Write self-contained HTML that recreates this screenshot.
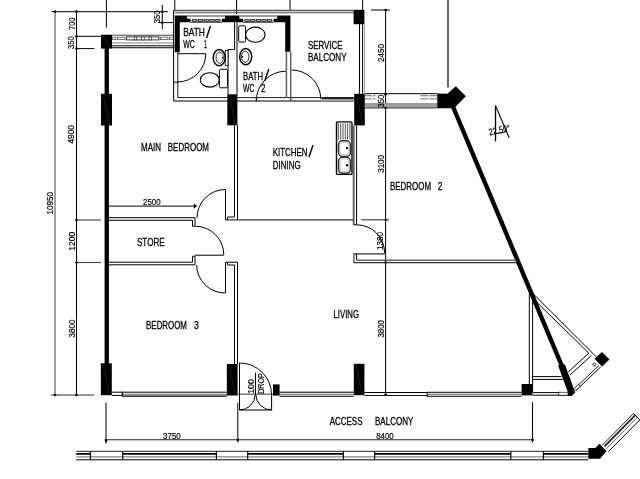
<!DOCTYPE html>
<html><head><meta charset="utf-8"><title>Floor plan</title>
<style>
html,body{margin:0;padding:0;background:#fff;}
svg{display:block;will-change:transform;transform:translateZ(0);}
text{font-family:"Liberation Sans",sans-serif;fill:#000;stroke:#000;stroke-width:0.3px;}
text.n{stroke-width:0.18px;}
tspan.s{stroke-width:0;}
</style></head>
<body>
<svg width="640" height="479" viewBox="0 0 640 479" shape-rendering="geometricPrecision">
<rect x="0" y="0" width="640" height="479" fill="#fff"/>
<line x1="51.5" y1="11.6" x2="168" y2="11.6" stroke="#333" stroke-width="1.2" />
<line x1="55" y1="11.6" x2="55" y2="395" stroke="#6a6a6a" stroke-width="1.3" />
<line x1="76.5" y1="11.6" x2="76.5" y2="395" stroke="#000" stroke-width="1.0" />
<line x1="76.5" y1="36.3" x2="101" y2="36.3" stroke="#000" stroke-width="1.0" />
<line x1="76.5" y1="48.6" x2="94.5" y2="48.6" stroke="#000" stroke-width="1.0" />
<line x1="76.5" y1="220" x2="101" y2="220" stroke="#444" stroke-width="1.1" />
<line x1="76.5" y1="262.5" x2="101" y2="262.5" stroke="#444" stroke-width="1.1" />
<line x1="51" y1="395" x2="94" y2="395" stroke="#333" stroke-width="1.1" />
<circle cx="55" cy="11.6" r="1.3" fill="#000"/>
<circle cx="76.5" cy="11.6" r="1.3" fill="#000"/>
<circle cx="76.5" cy="36.3" r="1.3" fill="#000"/>
<circle cx="76.5" cy="48.6" r="1.3" fill="#000"/>
<circle cx="76.5" cy="220" r="1.3" fill="#000"/>
<circle cx="76.5" cy="262.5" r="1.3" fill="#000"/>
<circle cx="55" cy="395" r="1.3" fill="#000"/>
<circle cx="76.5" cy="395" r="1.3" fill="#000"/>
<line x1="106.4" y1="0" x2="106.4" y2="27.5" stroke="#000" stroke-width="1.0" />
<line x1="174.8" y1="0" x2="174.8" y2="10.3" stroke="#000" stroke-width="1.0" />
<line x1="236.6" y1="0" x2="236.6" y2="14" stroke="#000" stroke-width="1.0" />
<line x1="290" y1="0" x2="290" y2="10.3" stroke="#000" stroke-width="1.0" />
<line x1="362.6" y1="0" x2="362.6" y2="10" stroke="#000" stroke-width="1.0" />
<line x1="448" y1="0" x2="448" y2="87.5" stroke="#000" stroke-width="1.2" />
<line x1="162.3" y1="5" x2="162.3" y2="29.3" stroke="#000" stroke-width="1.0" />
<line x1="158.8" y1="22.6" x2="173.6" y2="22.6" stroke="#000" stroke-width="1.0" />
<circle cx="162.3" cy="11.8" r="1.2" fill="#000"/>
<circle cx="162.3" cy="22.6" r="1.2" fill="#000"/>
<line x1="385.6" y1="10" x2="385.6" y2="395" stroke="#000" stroke-width="1.0" />
<line x1="371" y1="10" x2="390" y2="10" stroke="#000" stroke-width="1.0" />
<circle cx="385.6" cy="10" r="1.3" fill="#000"/>
<circle cx="385.6" cy="94.2" r="1.3" fill="#000"/>
<circle cx="385.6" cy="107.6" r="1.3" fill="#000"/>
<circle cx="385.6" cy="219.8" r="1.3" fill="#000"/>
<circle cx="385.6" cy="262.4" r="1.3" fill="#000"/>
<circle cx="385.6" cy="394.8" r="1.3" fill="#000"/>
<line x1="361.3" y1="219.8" x2="389" y2="219.8" stroke="#333" stroke-width="1.1" />
<line x1="106" y1="402.5" x2="106" y2="442.5" stroke="#000" stroke-width="1.0" />
<line x1="237.8" y1="402.6" x2="237.8" y2="442.5" stroke="#000" stroke-width="1.0" />
<line x1="532.5" y1="402" x2="532.5" y2="442.5" stroke="#000" stroke-width="1.0" />
<line x1="106" y1="439.8" x2="532.5" y2="439.8" stroke="#222" stroke-width="1.1" />
<circle cx="237.8" cy="439.8" r="1.4" fill="#000"/>
<circle cx="532.5" cy="439.8" r="1.4" fill="#000"/>
<polygon points="104.5,439.6 107.5,439.6 106,444.2" fill="#000" stroke="none" stroke-width="1.0"/>
<line x1="108.5" y1="206.1" x2="196" y2="206.1" stroke="#000" stroke-width="1.0" />
<polygon points="193.8,203.5 197.1,206.1 193.8,208.7" fill="#000" stroke="none" stroke-width="1.0"/>
<line x1="106.75" y1="48" x2="106.75" y2="364" stroke="#000" stroke-width="4.3" />
<rect x="101" y="34.7" width="11" height="13.9" fill="#000" stroke="none" stroke-width="1.0" rx="0"/>
<line x1="103.2" y1="35.7" x2="109.8" y2="47.6" stroke="#3c3c3c" stroke-width="0.5" />
<rect x="101" y="93.8" width="11" height="31.7" fill="#000" stroke="none" stroke-width="1.0" rx="0"/>
<line x1="103.2" y1="94.8" x2="109.8" y2="124.5" stroke="#3c3c3c" stroke-width="0.5" />
<rect x="100.8" y="363.3" width="11.0" height="31.9" fill="#000" stroke="none" stroke-width="1.0" rx="0"/>
<line x1="103.0" y1="364.3" x2="109.6" y2="394.2" stroke="#3c3c3c" stroke-width="0.5" />
<line x1="112" y1="35.2" x2="173.6" y2="35.2" stroke="#444" stroke-width="1.1" />
<line x1="112" y1="43" x2="174.5" y2="43" stroke="#666" stroke-width="0.8" />
<line x1="112" y1="45.8" x2="174.5" y2="45.8" stroke="#000" stroke-width="1.0" />
<line x1="112" y1="47.8" x2="174.5" y2="47.8" stroke="#000" stroke-width="1.1" />
<rect x="112.6" y="37.2" width="3.4" height="2.4" fill="#fff" stroke="#555" stroke-width="0.8" rx="0"/>
<rect x="117.6" y="37.2" width="7.4" height="2.4" fill="#fff" stroke="#555" stroke-width="0.8" rx="0"/>
<rect x="160.4" y="37.2" width="7.6" height="2.4" fill="#fff" stroke="#555" stroke-width="0.8" rx="0"/>
<rect x="169.6" y="37.2" width="4.2" height="2.4" fill="#fff" stroke="#555" stroke-width="0.8" rx="0"/>
<rect x="126.6" y="36.9" width="32.4" height="3.0" fill="#fff" stroke="#222" stroke-width="0.9" rx="0"/>
<rect x="134.2" y="36.9" width="2.6" height="3.0" fill="#fff" stroke="#222" stroke-width="0.7" rx="0"/>
<rect x="141.6" y="36.9" width="2.6" height="3.0" fill="#fff" stroke="#222" stroke-width="0.7" rx="0"/>
<rect x="149" y="36.9" width="2.6" height="3.0" fill="#fff" stroke="#222" stroke-width="0.7" rx="0"/>
<line x1="173.6" y1="10.5" x2="353.8" y2="10.5" stroke="#555" stroke-width="1.5" />
<line x1="174.8" y1="12.75" x2="353.8" y2="12.75" stroke="#222" stroke-width="0.8" />
<polygon points="174.8,15.6 186.9,15.6 186.9,18.75 190.6,18.75 190.6,22.2 179.8,22.2 179.8,52.2 174.8,52.2" fill="#000" stroke="none" stroke-width="1.0"/>
<polygon points="225,15.6 239.4,15.6 239.4,18.75 243.1,18.75 243.1,22.2 221.9,22.2 221.9,18.75 225,18.75" fill="#000" stroke="none" stroke-width="1.0"/>
<polygon points="277.3,15.6 290.4,15.6 290.4,51.8 285.2,51.8 285.2,22.2 273.6,22.2 273.6,18.75 277.3,18.75" fill="#000" stroke="none" stroke-width="1.0"/>
<line x1="186.9" y1="16.0" x2="225" y2="16.0" stroke="#222" stroke-width="0.9" />
<line x1="190.6" y1="22.3" x2="221.9" y2="22.3" stroke="#222" stroke-width="0.9" />
<rect x="192.5" y="19.5" width="4.38" height="2.0" fill="#fff" stroke="#222" stroke-width="0.8" rx="0"/>
<rect x="198.28" y="19.5" width="4.38" height="2.0" fill="#fff" stroke="#222" stroke-width="0.8" rx="0"/>
<rect x="204.06" y="19.5" width="4.38" height="2.0" fill="#fff" stroke="#222" stroke-width="0.8" rx="0"/>
<rect x="209.84" y="19.5" width="4.38" height="2.0" fill="#fff" stroke="#222" stroke-width="0.8" rx="0"/>
<rect x="215.62" y="19.5" width="4.38" height="2.0" fill="#fff" stroke="#222" stroke-width="0.8" rx="0"/>
<line x1="190.6" y1="20.5" x2="221.9" y2="20.5" stroke="#444" stroke-width="0.5" />
<line x1="239.4" y1="16.0" x2="277.3" y2="16.0" stroke="#222" stroke-width="0.9" />
<line x1="243.1" y1="22.3" x2="273.6" y2="22.3" stroke="#222" stroke-width="0.9" />
<rect x="245.0" y="19.5" width="4.22" height="2.0" fill="#fff" stroke="#222" stroke-width="0.8" rx="0"/>
<rect x="250.62" y="19.5" width="4.22" height="2.0" fill="#fff" stroke="#222" stroke-width="0.8" rx="0"/>
<rect x="256.24" y="19.5" width="4.22" height="2.0" fill="#fff" stroke="#222" stroke-width="0.8" rx="0"/>
<rect x="261.86" y="19.5" width="4.22" height="2.0" fill="#fff" stroke="#222" stroke-width="0.8" rx="0"/>
<rect x="267.48" y="19.5" width="4.22" height="2.0" fill="#fff" stroke="#222" stroke-width="0.8" rx="0"/>
<line x1="243.1" y1="20.5" x2="273.6" y2="20.5" stroke="#444" stroke-width="0.5" />
<line x1="173.6" y1="10.3" x2="173.6" y2="101" stroke="#000" stroke-width="1.0" />
<line x1="177.8" y1="52.2" x2="177.8" y2="97.6" stroke="#000" stroke-width="0.9" />
<line x1="177.8" y1="97.6" x2="227.5" y2="97.6" stroke="#000" stroke-width="0.9" />
<line x1="173.6" y1="101" x2="227.5" y2="101" stroke="#000" stroke-width="1.0" />
<line x1="237" y1="97.6" x2="353.8" y2="97.6" stroke="#000" stroke-width="0.9" />
<line x1="237" y1="101" x2="353.8" y2="101" stroke="#000" stroke-width="1.0" />
<line x1="286.4" y1="51.8" x2="286.4" y2="97.6" stroke="#666" stroke-width="1.6" />
<line x1="290.8" y1="51.8" x2="290.8" y2="101" stroke="#000" stroke-width="0.9" />
<line x1="234.6" y1="22.4" x2="234.6" y2="49.6" stroke="#000" stroke-width="1.0" />
<line x1="237" y1="22.4" x2="237" y2="94.3" stroke="#000" stroke-width="1.0" />
<line x1="228" y1="49.6" x2="228" y2="94.3" stroke="#000" stroke-width="1.0" />
<line x1="228" y1="49.6" x2="234.6" y2="49.6" stroke="#000" stroke-width="1.0" />
<rect x="227.3" y="94.3" width="10.1" height="31.0" fill="#000" stroke="none" stroke-width="1.0" rx="0"/>
<line x1="229.5" y1="95.3" x2="235.2" y2="124.3" stroke="#3c3c3c" stroke-width="0.5" />
<rect x="238.7" y="25.8" width="6.9" height="16.2" fill="#fff" stroke="#000" stroke-width="1.0" rx="1.4"/>
<ellipse cx="255.3" cy="34.7" rx="9.7" ry="7.6" fill="none" stroke="#000" stroke-width="1.1"/>
<rect x="219.4" y="69.3" width="8.1" height="18.5" fill="#fff" stroke="#000" stroke-width="1.0" rx="1.4"/>
<ellipse cx="209.8" cy="79.9" rx="9.5" ry="7.2" fill="none" stroke="#000" stroke-width="1.1"/>
<rect x="225.2" y="50.5" width="2.8" height="15.0" fill="#fff" stroke="#000" stroke-width="0.8" rx="0"/>
<ellipse cx="219.2" cy="57.7" rx="6" ry="8.1" fill="none" stroke="#000" stroke-width="1.5"/>
<ellipse cx="219.7" cy="57.7" rx="3.7" ry="5.6" fill="none" stroke="#000" stroke-width="0.8"/>
<ellipse cx="245.7" cy="56.7" rx="6" ry="8.1" fill="none" stroke="#000" stroke-width="1.5"/>
<ellipse cx="245.2" cy="56.7" rx="3.7" ry="5.6" fill="none" stroke="#000" stroke-width="0.8"/>
<circle cx="222.3" cy="57.7" r="0.8" fill="#000"/>
<circle cx="242.6" cy="56.7" r="0.8" fill="#000"/>
<line x1="177.8" y1="53.7" x2="205.8" y2="53.7" stroke="#000" stroke-width="1.0" />
<path d="M205.8,53.7 A28.1,28.1 0 0 1 177.8,81.9" fill="none" stroke="#000" stroke-width="1.0"/>
<line x1="173.6" y1="82.2" x2="178.6" y2="82.2" stroke="#000" stroke-width="1.0" />
<path d="M285.8,71.2 A29.6,29.6 0 0 0 256.3,101" fill="none" stroke="#000" stroke-width="1.0"/>
<line x1="256.3" y1="97.6" x2="256.3" y2="101.4" stroke="#000" stroke-width="1.0" />
<path d="M291.6,70 A29.2,29.2 0 0 1 320.8,99.2" fill="none" stroke="#000" stroke-width="1.0"/>
<line x1="359.5" y1="24.2" x2="359.5" y2="93.8" stroke="#000" stroke-width="1.1" />
<line x1="362.6" y1="24.2" x2="362.6" y2="93.8" stroke="#000" stroke-width="1.0" />
<line x1="364.5" y1="24.2" x2="364.5" y2="93.8" stroke="#777" stroke-width="0.7" />
<rect x="353.6" y="9.8" width="10.8" height="14.4" fill="#000" stroke="none" stroke-width="1.0" rx="0"/>
<line x1="355.8" y1="10.8" x2="362.2" y2="23.2" stroke="#3c3c3c" stroke-width="0.5" />
<rect x="321.6" y="97.1" width="32.2" height="2.1" fill="#222" stroke="none" stroke-width="1.0" rx="0"/>
<rect x="321.6" y="99.2" width="32.2" height="1.8" fill="#999" stroke="none" stroke-width="1.0" rx="0"/>
<rect x="354.2" y="93.8" width="10.6" height="31.6" fill="#000" stroke="none" stroke-width="1.0" rx="0"/>
<line x1="356.4" y1="94.8" x2="362.6" y2="124.4" stroke="#3c3c3c" stroke-width="0.5" />
<line x1="364.8" y1="93.7" x2="437.5" y2="93.7" stroke="#000" stroke-width="1.0" />
<rect x="364.8" y="103" width="72.7" height="3.9" fill="#9c9c9c" stroke="none" stroke-width="1.0" rx="0"/>
<line x1="364.8" y1="107.9" x2="437.5" y2="107.9" stroke="#111" stroke-width="1.0" />
<line x1="365" y1="95.7" x2="375.4" y2="95.7" stroke="#8a8a8a" stroke-width="1.3" />
<line x1="365" y1="98.9" x2="375.4" y2="98.9" stroke="#8a8a8a" stroke-width="1.3" />
<line x1="372.4" y1="94.6" x2="372.4" y2="100.2" stroke="#fff" stroke-width="1.2" />
<line x1="420.3" y1="95.7" x2="437.3" y2="95.7" stroke="#8a8a8a" stroke-width="1.3" />
<line x1="420.3" y1="98.9" x2="437.3" y2="98.9" stroke="#8a8a8a" stroke-width="1.3" />
<line x1="428.8" y1="94.6" x2="428.8" y2="100.2" stroke="#fff" stroke-width="1.2" />
<polygon points="437.3,93.5 447.5,93.8 455.8,86.3 465.9,96.2 454,108.2 437.3,108.3" fill="#000" stroke="none" stroke-width="1.0"/>
<line x1="452.7" y1="106" x2="565.7" y2="375" stroke="#000" stroke-width="4.4" />
<line x1="495.5" y1="105.6" x2="495.5" y2="141.3" stroke="#000" stroke-width="1.3" />
<line x1="495.5" y1="105.6" x2="509.2" y2="137.8" stroke="#000" stroke-width="1.1" />
<path d="M496,133.4 Q501.5,133.6 506.8,131.4" fill="none" stroke="#000" stroke-width="0.9"/>
<rect x="336.5" y="121.9" width="15.5" height="52.5" fill="none" stroke="#000" stroke-width="1.4" rx="1.2"/>
<line x1="338.4" y1="123.3" x2="338.4" y2="139.6" stroke="#444" stroke-width="0.9" />
<line x1="340.7" y1="123.3" x2="340.7" y2="139.6" stroke="#444" stroke-width="0.9" />
<line x1="343" y1="123.3" x2="343" y2="139.6" stroke="#444" stroke-width="0.9" />
<line x1="345.3" y1="123.3" x2="345.3" y2="139.6" stroke="#444" stroke-width="0.9" />
<line x1="347.6" y1="123.3" x2="347.6" y2="139.6" stroke="#444" stroke-width="0.9" />
<line x1="349.9" y1="123.3" x2="349.9" y2="139.6" stroke="#444" stroke-width="0.9" />
<rect x="338.5" y="140.8" width="11.9" height="15.6" fill="#fff" stroke="#333" stroke-width="1.5" rx="4"/>
<rect x="340" y="142.4" width="8.9" height="12.4" fill="none" stroke="#aaa" stroke-width="0.7" rx="3"/>
<rect x="338.5" y="157.3" width="11.9" height="16.0" fill="#fff" stroke="#333" stroke-width="1.5" rx="4"/>
<rect x="340" y="158.9" width="8.9" height="12.8" fill="none" stroke="#aaa" stroke-width="0.7" rx="3"/>
<circle cx="347" cy="148.1" r="1.2" fill="#000"/>
<circle cx="347" cy="165.2" r="1.2" fill="#000"/>
<line x1="353.7" y1="125.4" x2="353.7" y2="224.8" stroke="#666" stroke-width="2.0" />
<line x1="356.6" y1="125.4" x2="356.6" y2="224.8" stroke="#000" stroke-width="1.0" />
<line x1="353.5" y1="224.8" x2="356.6" y2="224.8" stroke="#000" stroke-width="1.0" />
<path d="M356.6,224.8 A28,28 0 0 1 384.6,252.8" fill="none" stroke="#000" stroke-width="1.0"/>
<line x1="234.5" y1="125.3" x2="234.5" y2="217" stroke="#000" stroke-width="1.0" />
<line x1="237.5" y1="125.3" x2="237.5" y2="219.9" stroke="#000" stroke-width="1.0" />
<line x1="227.5" y1="217" x2="234.5" y2="217" stroke="#000" stroke-width="1.0" />
<line x1="227.5" y1="217" x2="227.5" y2="219.9" stroke="#000" stroke-width="1.0" />
<line x1="225.5" y1="219.9" x2="353.5" y2="219.9" stroke="#000" stroke-width="1.0" />
<line x1="225.5" y1="189.5" x2="225.5" y2="219.9" stroke="#000" stroke-width="1.0" />
<path d="M225.5,189.5 A28.4,28.4 0 0 0 197,217.8" fill="none" stroke="#000" stroke-width="1.0"/>
<line x1="108.5" y1="217.7" x2="195" y2="217.7" stroke="#000" stroke-width="1.0" />
<line x1="108.5" y1="220.3" x2="192.5" y2="220.3" stroke="#000" stroke-width="1.0" />
<polyline points="192.5,220.3 192.5,226.2 195,226.2 195,217.7" fill="none" stroke="#000" stroke-width="1.0"/>
<path d="M195.4,226.2 A28.6,28.6 0 0 1 223.8,255" fill="none" stroke="#000" stroke-width="1.0"/>
<line x1="195" y1="255.2" x2="223.8" y2="255.2" stroke="#000" stroke-width="1.0" />
<line x1="108.5" y1="262.2" x2="192.5" y2="262.2" stroke="#000" stroke-width="1.0" />
<line x1="108.5" y1="264.8" x2="195" y2="264.8" stroke="#000" stroke-width="1.0" />
<polyline points="192.5,262.2 192.5,256.2 195,256.2 195,264.8" fill="none" stroke="#000" stroke-width="1.0"/>
<path d="M196.6,265 A28.4,28.4 0 0 0 225.5,293" fill="none" stroke="#000" stroke-width="1.0"/>
<line x1="225.5" y1="262.2" x2="225.5" y2="293" stroke="#000" stroke-width="1.0" />
<line x1="225.5" y1="262.2" x2="237.5" y2="262.2" stroke="#000" stroke-width="1.0" />
<line x1="227.5" y1="265" x2="234.5" y2="265" stroke="#000" stroke-width="1.0" />
<line x1="227.5" y1="262.2" x2="227.5" y2="265" stroke="#000" stroke-width="1.0" />
<line x1="234.5" y1="265" x2="234.5" y2="364" stroke="#000" stroke-width="1.0" />
<line x1="237.5" y1="262.2" x2="237.5" y2="364" stroke="#000" stroke-width="1.0" />
<rect x="226.8" y="364" width="10.8" height="31.5" fill="#000" stroke="none" stroke-width="1.0" rx="0"/>
<line x1="229.0" y1="365" x2="235.4" y2="394.5" stroke="#3c3c3c" stroke-width="0.5" />
<line x1="112" y1="392.2" x2="226.8" y2="392.2" stroke="#000" stroke-width="1.0" />
<line x1="112" y1="395.4" x2="122.4" y2="395.4" stroke="#000" stroke-width="1.0" />
<line x1="122.4" y1="396.1" x2="226.8" y2="396.1" stroke="#000" stroke-width="1.1" />
<line x1="122.4" y1="394.25" x2="226.8" y2="394.25" stroke="#444" stroke-width="0.8" />
<line x1="122.4" y1="391.7" x2="122.4" y2="396.6" stroke="#000" stroke-width="1.2" />
<polyline points="385.4,253.9 353.9,253.9 353.9,262.6 517,262.6" fill="none" stroke="#333" stroke-width="1.1"/>
<line x1="356.6" y1="253.9" x2="356.6" y2="260" stroke="#000" stroke-width="1.0" />
<line x1="356.6" y1="260.2" x2="516" y2="260.2" stroke="#666" stroke-width="1.4" />
<line x1="239.5" y1="363" x2="239.5" y2="410" stroke="#000" stroke-width="1.0" />
<path d="M239.5,363 A31.9,31.9 0 0 1 271.6,394.8" fill="none" stroke="#000" stroke-width="1.0"/>
<line x1="271.6" y1="394.8" x2="271.6" y2="410" stroke="#000" stroke-width="1.0" />
<line x1="239.5" y1="410" x2="271.6" y2="410" stroke="#000" stroke-width="1.0" />
<path d="M239.5,410 A15.6,15.6 0 0 0 255.2,394.8" fill="none" stroke="#000" stroke-width="1.0"/>
<path d="M271.6,410 A15.8,15.8 0 0 1 255.8,394.8" fill="none" stroke="#000" stroke-width="1.0"/>
<line x1="255.5" y1="372.7" x2="255.5" y2="394.6" stroke="#000" stroke-width="1.0" />
<rect x="273" y="384.4" width="6.6" height="11.2" fill="#000" stroke="none" stroke-width="1.0" rx="0"/>
<line x1="237.6" y1="394.2" x2="273" y2="394.2" stroke="#000" stroke-width="0.8" />
<line x1="279.6" y1="392.2" x2="353.8" y2="392.2" stroke="#000" stroke-width="1.0" />
<line x1="279.6" y1="396.2" x2="353.8" y2="396.2" stroke="#000" stroke-width="1.1" />
<line x1="279.6" y1="394.25" x2="353.8" y2="394.25" stroke="#444" stroke-width="0.8" />
<rect x="353.8" y="363.8" width="10.6" height="31.4" fill="#000" stroke="none" stroke-width="1.0" rx="0"/>
<line x1="356.0" y1="364.8" x2="362.2" y2="394.2" stroke="#3c3c3c" stroke-width="0.5" />
<line x1="364.4" y1="392.5" x2="427.5" y2="392.5" stroke="#000" stroke-width="1.0" />
<line x1="364.4" y1="395.5" x2="427.5" y2="395.5" stroke="#000" stroke-width="0.9" />
<line x1="427.3" y1="391.8" x2="427.3" y2="396.8" stroke="#000" stroke-width="1.0" />
<line x1="427.3" y1="392.3" x2="521.5" y2="392.3" stroke="#000" stroke-width="1.0" />
<line x1="427.3" y1="394.3" x2="521.5" y2="394.3" stroke="#333" stroke-width="0.8" />
<line x1="427.3" y1="396.3" x2="521.5" y2="396.3" stroke="#000" stroke-width="1.0" />
<rect x="521.6" y="384" width="10.8" height="11.4" fill="#000" stroke="none" stroke-width="1.0" rx="0"/>
<line x1="529.3" y1="293.8" x2="529.3" y2="384" stroke="#000" stroke-width="1.0" />
<line x1="532.6" y1="296" x2="532.6" y2="392" stroke="#000" stroke-width="1.0" />
<line x1="532" y1="292.6" x2="596.3" y2="356.9" stroke="#000" stroke-width="1.0" />
<line x1="534.5" y1="300" x2="588.8" y2="353.1" stroke="#000" stroke-width="1.0" />
<line x1="532.6" y1="376.6" x2="561.5" y2="376.6" stroke="#000" stroke-width="1.0" />
<line x1="532.6" y1="379.4" x2="563.2" y2="379.4" stroke="#000" stroke-width="1.0" />
<line x1="588.8" y1="353.1" x2="568.2" y2="372" stroke="#000" stroke-width="1.0" />
<line x1="591.3" y1="355.6" x2="570" y2="375" stroke="#000" stroke-width="1.0" />
<line x1="600.7" y1="366.9" x2="575.7" y2="390.7" stroke="#000" stroke-width="1.0" />
<line x1="598.8" y1="365.7" x2="575" y2="388.2" stroke="#000" stroke-width="0.9" />
<polygon points="602,351.9 609.5,359.4 602,366.4 594.5,358.8" fill="#000" stroke="none" stroke-width="1.0"/>
<ellipse cx="594.2" cy="364.5" rx="1.4" ry="1.4" fill="none" stroke="#000" stroke-width="0.8"/>
<line x1="532.4" y1="392.6" x2="559" y2="392.6" stroke="#000" stroke-width="1.0" />
<line x1="532.4" y1="395.2" x2="572" y2="395.2" stroke="#000" stroke-width="1.0" />
<polygon points="558.1,365.4 565,364.6 575.2,392.4 572,395.8 567.8,395.8 568,392.6" fill="#000" stroke="none" stroke-width="1.0"/>
<rect x="558.8" y="392.2" width="9.2" height="3.0" fill="#fff" stroke="#000" stroke-width="0.7" rx="0"/>
<polygon points="576,390.4 580.3,386.3 578.5,384.4 574.2,388.5" fill="#fff" stroke="#000" stroke-width="0.8"/>
<line x1="76.3" y1="451.3" x2="588.3" y2="451.3" stroke="#222" stroke-width="1.0" />
<line x1="76.3" y1="453.9" x2="588.3" y2="453.9" stroke="#000" stroke-width="1.8" />
<line x1="76.3" y1="456.9" x2="588.3" y2="456.9" stroke="#555" stroke-width="0.9" />
<line x1="76.3" y1="459.8" x2="588.3" y2="459.8" stroke="#000" stroke-width="1.0" />
<line x1="90.4" y1="453.9" x2="122.7" y2="453.9" stroke="#fff" stroke-width="2.2" />
<line x1="90.4" y1="451.3" x2="90.4" y2="459.8" stroke="#000" stroke-width="1.1" />
<line x1="122.7" y1="451.3" x2="122.7" y2="459.8" stroke="#000" stroke-width="1.1" />
<line x1="216.4" y1="453.9" x2="247.7" y2="453.9" stroke="#fff" stroke-width="2.2" />
<line x1="216.4" y1="451.3" x2="216.4" y2="459.8" stroke="#000" stroke-width="1.1" />
<line x1="247.7" y1="451.3" x2="247.7" y2="459.8" stroke="#000" stroke-width="1.1" />
<line x1="343.4" y1="453.9" x2="374.6" y2="453.9" stroke="#fff" stroke-width="2.2" />
<line x1="343.4" y1="451.3" x2="343.4" y2="459.8" stroke="#000" stroke-width="1.1" />
<line x1="374.6" y1="451.3" x2="374.6" y2="459.8" stroke="#000" stroke-width="1.1" />
<line x1="510.9" y1="453.9" x2="543.4" y2="453.9" stroke="#fff" stroke-width="2.2" />
<line x1="510.9" y1="451.3" x2="510.9" y2="459.8" stroke="#000" stroke-width="1.1" />
<line x1="543.4" y1="451.3" x2="543.4" y2="459.8" stroke="#000" stroke-width="1.1" />
<polygon points="588.3,448.1 595.4,448.1 599.2,443.7 606.5,451.1 600.1,458.8 588.3,458.8" fill="#000" stroke="none" stroke-width="1.0"/>
<line x1="602.1" y1="445.4" x2="633.63" y2="413.43" stroke="#222" stroke-width="1.0" />
<line x1="604.51" y1="446.37" x2="635.34" y2="415.12" stroke="#222" stroke-width="1.7" />
<line x1="605.94" y1="449.19" x2="637.47" y2="417.22" stroke="#555" stroke-width="0.9" />
<line x1="608.44" y1="451.65" x2="639.96" y2="419.68" stroke="#000" stroke-width="1.0" />
<line x1="633.6" y1="413.4" x2="640" y2="420.2" stroke="#000" stroke-width="1.0" />
<text><tspan x="183.2" y="36.4" font-size="11.5" textLength="21.7" lengthAdjust="spacingAndGlyphs">BATH</tspan><tspan class="s" x="205.7" y="37.5" font-size="16.4" textLength="5.5" lengthAdjust="spacingAndGlyphs">/</tspan></text>
<text><tspan x="183.2" y="48.2" font-size="11.5" textLength="11.6" lengthAdjust="spacingAndGlyphs">WC</tspan> <tspan x="204.1" y="48.2" font-size="11.5" textLength="2.9" lengthAdjust="spacingAndGlyphs">1</tspan></text>
<text><tspan x="243.1" y="80.1" font-size="11.5" textLength="20" lengthAdjust="spacingAndGlyphs">BATH</tspan><tspan class="s" x="264" y="81.4" font-size="16.4" textLength="5.5" lengthAdjust="spacingAndGlyphs">/</tspan></text>
<text><tspan x="243.1" y="91.7" font-size="11.5" textLength="11.3" lengthAdjust="spacingAndGlyphs">WC</tspan> <tspan x="261" y="91.7" font-size="11.5" textLength="4.5" lengthAdjust="spacingAndGlyphs">2</tspan></text>
<text x="307.9" y="49.4" font-size="11.5" textLength="34.7" lengthAdjust="spacingAndGlyphs">SERVICE</text>
<text x="307.9" y="60.7" font-size="11.5" textLength="38.7" lengthAdjust="spacingAndGlyphs">BALCONY</text>
<text><tspan x="141" y="150.6" font-size="11.5" textLength="20" lengthAdjust="spacingAndGlyphs">MAIN</tspan> <tspan x="167.75" y="150.6" font-size="11.5" textLength="41.25" lengthAdjust="spacingAndGlyphs">BEDROOM</tspan></text>
<text><tspan x="272.8" y="156.1" font-size="11.5" textLength="34.7" lengthAdjust="spacingAndGlyphs">KITCHEN</tspan><tspan class="s" x="308.3" y="157.2" font-size="16.4" textLength="5.5" lengthAdjust="spacingAndGlyphs">/</tspan></text>
<text x="272.8" y="168.6" font-size="11.5" textLength="27.8" lengthAdjust="spacingAndGlyphs">DINING</text>
<text><tspan x="390" y="189.75" font-size="11.5" textLength="41" lengthAdjust="spacingAndGlyphs">BEDROOM</tspan> <tspan x="437.75" y="189.75" font-size="11.5" textLength="4.75" lengthAdjust="spacingAndGlyphs">2</tspan></text>
<text x="137" y="246.1" font-size="11.5" textLength="27.6" lengthAdjust="spacingAndGlyphs">STORE</text>
<text><tspan x="146.1" y="328.7" font-size="11.5" textLength="40.8" lengthAdjust="spacingAndGlyphs">BEDROOM</tspan> <tspan x="194.1" y="328.7" font-size="11.5" textLength="4.8" lengthAdjust="spacingAndGlyphs">3</tspan></text>
<text x="333.5" y="317.8" font-size="11.5" textLength="25.5" lengthAdjust="spacingAndGlyphs">LIVING</text>
<text><tspan x="329.7" y="424.5" font-size="11.5" textLength="32.8" lengthAdjust="spacingAndGlyphs">ACCESS</tspan> <tspan x="375" y="424.5" font-size="11.5" textLength="38.4" lengthAdjust="spacingAndGlyphs">BALCONY</tspan></text>
<text class="n" x="143" y="205.3" font-size="9.3" textLength="17.6" lengthAdjust="spacingAndGlyphs">2500</text>
<text class="n" x="163" y="438.8" font-size="9.3" textLength="17.8" lengthAdjust="spacingAndGlyphs">3750</text>
<text class="n" x="376.25" y="438.6" font-size="9.3" textLength="17.5" lengthAdjust="spacingAndGlyphs">8400</text>
<text class="n" x="74.5" y="30" font-size="9.3" textLength="12.5" lengthAdjust="spacingAndGlyphs" transform="rotate(-90 74.5 30)">700</text>
<text class="n" x="74.5" y="48.9" font-size="9.3" textLength="12.6" lengthAdjust="spacingAndGlyphs" transform="rotate(-90 74.5 48.9)">350</text>
<text class="n" x="74.5" y="143.6" font-size="9.3" textLength="18.6" lengthAdjust="spacingAndGlyphs" transform="rotate(-90 74.5 143.6)">4900</text>
<text class="n" x="53.3" y="214.5" font-size="9.3" textLength="22.5" lengthAdjust="spacingAndGlyphs" transform="rotate(-90 53.3 214.5)">10950</text>
<text class="n" x="74.8" y="250.7" font-size="9.3" textLength="18.8" lengthAdjust="spacingAndGlyphs" transform="rotate(-90 74.8 250.7)">1200</text>
<text class="n" x="74.8" y="337.6" font-size="9.3" textLength="18.2" lengthAdjust="spacingAndGlyphs" transform="rotate(-90 74.8 337.6)">3800</text>
<text class="n" x="160.1" y="23.2" font-size="9.3" textLength="12.5" lengthAdjust="spacingAndGlyphs" transform="rotate(-90 160.1 23.2)">350</text>
<text class="n" x="383.8" y="62" font-size="9.3" textLength="18" lengthAdjust="spacingAndGlyphs" transform="rotate(-90 383.8 62)">2450</text>
<text class="n" x="383.8" y="107.4" font-size="9.3" textLength="12.6" lengthAdjust="spacingAndGlyphs" transform="rotate(-90 383.8 107.4)">350</text>
<text class="n" x="383.8" y="172.8" font-size="9.3" textLength="17.8" lengthAdjust="spacingAndGlyphs" transform="rotate(-90 383.8 172.8)">3100</text>
<text class="n" x="383.3" y="250.1" font-size="9.3" textLength="18.2" lengthAdjust="spacingAndGlyphs" transform="rotate(-90 383.3 250.1)">1380</text>
<text class="n" x="383.6" y="337.6" font-size="9.3" textLength="17.6" lengthAdjust="spacingAndGlyphs" transform="rotate(-90 383.6 337.6)">3800</text>
<text class="n" x="254.2" y="393.8" font-size="8.8" textLength="14.8" lengthAdjust="spacingAndGlyphs" transform="rotate(-90 254.2 393.8)">100</text>
<text class="n" x="264.2" y="393.8" font-size="9.2" textLength="20.4" lengthAdjust="spacingAndGlyphs" transform="rotate(-90 264.2 393.8)">DROP</text>
<text class="n" x="489.4" y="135.4" font-size="9.4" textLength="21.8" lengthAdjust="spacingAndGlyphs" transform="rotate(-12 489.4 135.4)">22.50°</text>
</svg>
</body></html>
